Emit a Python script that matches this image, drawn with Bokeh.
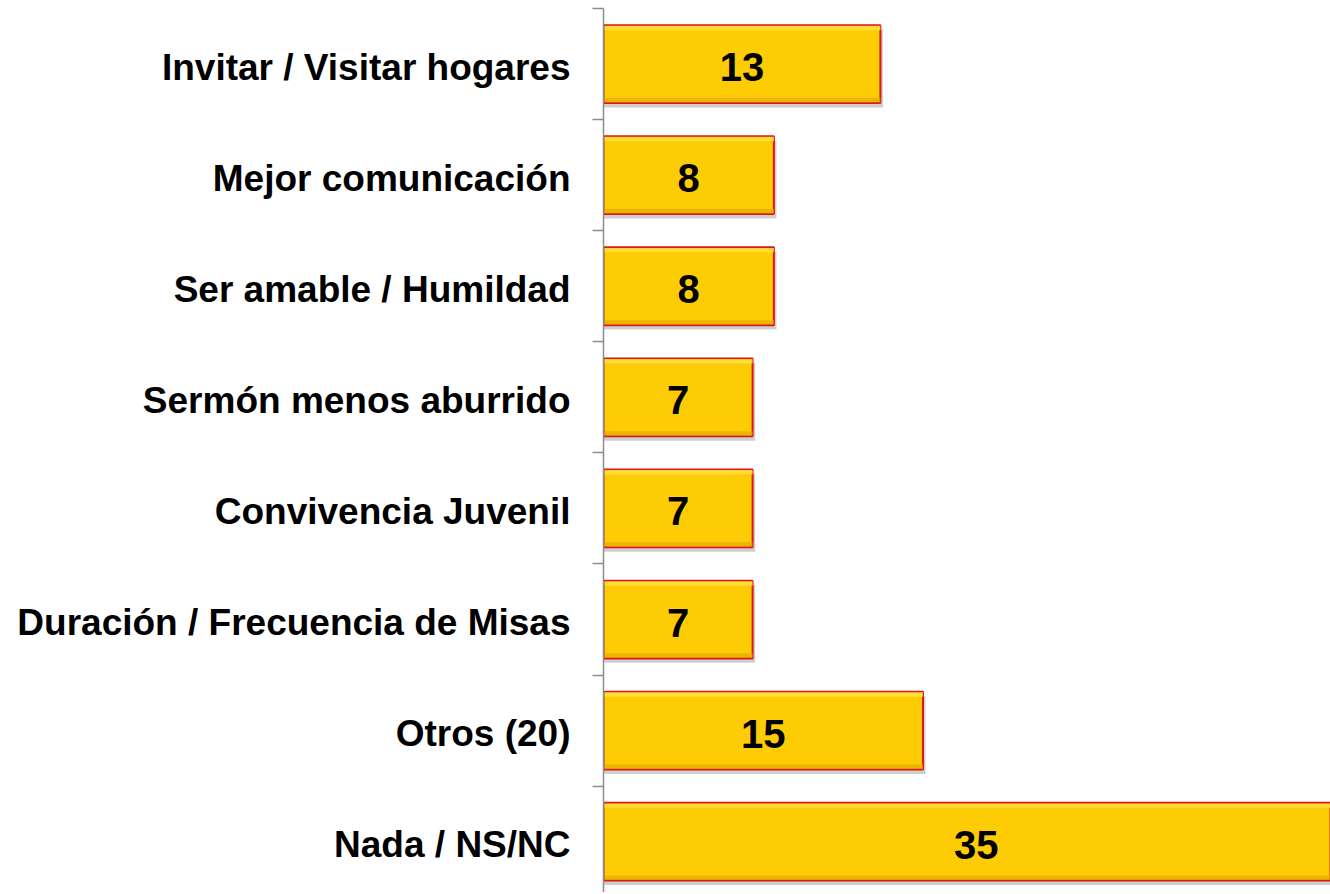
from bokeh.plotting import figure
from bokeh.models import ColumnDataSource, Range1d, FixedTicker
from bokeh.core.properties import value
from bokeh.embed import file_html
from bokeh.resources import INLINE

categories = ["Invitar / Visitar hogares", "Mejor comunicación", "Ser amable / Humildad",
              "Sermón menos aburrido", "Convivencia Juvenil", "Duración / Frecuencia de Misas",
              "Otros (20)", "Nada / NS/NC"]
values = [13, 8, 8, 7, 7, 7, 15, 35]

n = len(categories)
ypos = [n - 1 - i for i in range(n)]

src = ColumnDataSource(dict(
    y=ypos,
    v=values,
    half=[v / 2 for v in values],
    label=[str(v) for v in values],
    ys=[y - 0.04 for y in ypos],
    vs=[v + 0.12 for v in values],
    ytop=[y + 0.35 - 0.025 for y in ypos],
    ybot=[y - 0.35 + 0.025 for y in ypos],
))

p = figure(width=1330, height=892, output_backend="svg", toolbar_location=None,
           x_range=Range1d(0, 34.13), y_range=Range1d(-0.457, 7.5),
           x_axis_location=None, min_border_left=603, min_border_right=0,
           min_border_top=8, min_border_bottom=0)
p.outline_line_color = None
p.xgrid.visible = False
p.ygrid.visible = False
p.background_fill_color = "white"

# shadow
p.hbar(y="ys", left=0, right="vs", height=0.70, source=src,
       fill_color="#888888", fill_alpha=0.4, line_color=None)
# main bar
p.hbar(y="y", left=0, right="v", height=0.70, source=src,
       fill_color="#FECC05", line_color="#E0161B", line_width=2)
# bevel highlight / shade
p.hbar(y="ytop", left=0.05, right="v", height=0.04, source=src,
       fill_color="#FFE341", fill_alpha=0.8, line_color=None)
p.hbar(y="ybot", left=0.05, right="v", height=0.04, source=src,
       fill_color="#E5A800", fill_alpha=0.7, line_color=None)

p.text(x="half", y="y", text="label", source=src, text_align="center",
       text_baseline="middle", y_offset=3, text_font=value("Liberation Sans"),
       text_font_style="bold", text_font_size="40px", text_color="black")

ax = p.yaxis[0]
ax.ticker = FixedTicker(ticks=[y - 0.027 for y in ypos],
                        minor_ticks=[y + 0.5 for y in ypos] + [-0.5])
ax.major_label_overrides = {y - 0.027: c for y, c in zip(ypos, categories)}
ax.major_tick_out = 0
ax.major_tick_in = 0
ax.minor_tick_out = 11
ax.minor_tick_in = 0
ax.minor_tick_line_color = "#8C8C8C"
ax.minor_tick_line_width = 1.5
ax.axis_line_color = "#8C8C8C"
ax.axis_line_width = 1.5
ax.major_label_standoff = 22
ax.major_label_text_font = "Liberation Sans"
ax.major_label_text_font_style = "bold"
ax.major_label_text_font_size = "37px"
ax.major_label_text_color = "black"

open("out.html", "w").write(file_html(p, INLINE))
